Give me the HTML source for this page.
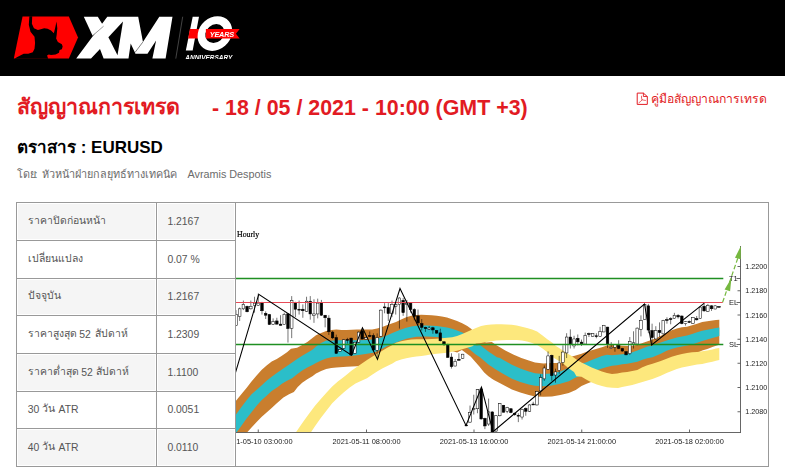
<!DOCTYPE html>
<html lang="th"><head><meta charset="utf-8"><title>สัญญาณการเทรด</title>
<style>
html,body{margin:0;padding:0;background:#fff;}
body{width:785px;height:474px;overflow:hidden;position:relative;font-family:"Liberation Sans",sans-serif;color:#000;}
#hdr{position:absolute;left:0;top:0;width:785px;height:76px;background:#000;}
.t{position:absolute;white-space:nowrap;line-height:1;margin:0;padding:0;}
.th{font-family:"Liberation Sans",sans-serif;}
svg{position:absolute;left:0;top:0;}
#chart{left:236px;top:203px;will-change:transform;}
#logo{will-change:transform;}
.ax{font-family:"Liberation Sans",sans-serif;font-size:7.2px;fill:#222;}
.lb{font-family:"Liberation Sans",sans-serif;font-size:7.5px;fill:#222;}
</style></head><body>
<div id="hdr"></div>
<svg id="grid" width="785" height="474" viewBox="0 0 785 474">
<rect x="18" y="204" width="137" height="35" fill="#f5f5f5"/><rect x="158" y="204" width="76" height="35" fill="#f5f5f5"/>
<rect x="18" y="280" width="137" height="34" fill="#f5f5f5"/><rect x="158" y="280" width="76" height="34" fill="#f5f5f5"/>
<rect x="18" y="355" width="137" height="35" fill="#f5f5f5"/><rect x="158" y="355" width="76" height="35" fill="#f5f5f5"/>
<rect x="18" y="430" width="137" height="35" fill="#f5f5f5"/><rect x="158" y="430" width="76" height="35" fill="#f5f5f5"/>
<rect x="16" y="202" width="753" height="1" fill="#999"/>
<rect x="16" y="240" width="220" height="1" fill="#999"/>
<rect x="16" y="278" width="220" height="1" fill="#999"/>
<rect x="16" y="315" width="220" height="1" fill="#999"/>
<rect x="16" y="353" width="220" height="1" fill="#999"/>
<rect x="16" y="391" width="220" height="1" fill="#999"/>
<rect x="16" y="428" width="220" height="1" fill="#999"/>
<rect x="16" y="466" width="753" height="1" fill="#999"/>
<rect x="16" y="202" width="1" height="265" fill="#999"/>
<rect x="156" y="202" width="1" height="265" fill="#999"/>
<rect x="235" y="202" width="1" height="265" fill="#999"/>
<rect x="768" y="202" width="1" height="265" fill="#999"/>
</svg>
<svg id="thai" width="785" height="474" viewBox="0 0 785 474">
<g fill="none" stroke="#e21b23" stroke-linejoin="round" stroke-linecap="round"><path stroke-width="1" d="M637.6,93.1 H643.4 L647.3,96.6 V104.4 H637.6 Z"/><path stroke-width="0.9" d="M643.4,93.3 V96.5 H647.1"/><path stroke-width="0.7" d="M641.5,96.2 Q641.3,98.5 642.1,99.8 Q640.5,102 639,102.7 M642.1,99.8 Q643.8,100.3 645.5,100.4"/></g>
</svg>
<span class="t th" style="left:17.2px;top:97px;font-size:21.4px;color:#e21b23;font-weight:bold">สัญญาณการเทรด</span>
<span class="t" style="left:212px;top:98px;font-size:21.4px;color:#e21b23;font-weight:bold">- 18 / 05 / 2021 - 10:00 (GMT +3)</span>
<span class="t th" style="left:650.9px;top:93px;font-size:12.2px;color:#e21b23;font-weight:normal">คู่มือสัญญาณการเทรด</span>
<span class="t th" style="left:17.2px;top:139px;font-size:17px;color:#000;font-weight:bold">ตราสาร</span>
<span class="t" style="left:80.7px;top:139px;font-size:17px;color:#000;font-weight:bold">: EURUSD</span>
<span class="t th" style="left:16.6px;top:169px;font-size:10.8px;color:#6b6b6b;font-weight:normal">โดย</span>
<span class="t" style="left:34.6px;top:169px;font-size:10.8px;color:#6b6b6b;font-weight:normal">:</span>
<span class="t th" style="left:41.5px;top:169px;font-size:10.8px;color:#6b6b6b;font-weight:normal">หัวหน้าฝ่ายกลยุทธ์ทางเทคนิค</span>
<span class="t" style="left:187.5px;top:169px;font-size:10.8px;color:#6b6b6b;font-weight:normal">Avramis Despotis</span>
<span class="t th" style="left:28px;top:216px;font-size:10.4px;color:#555;font-weight:normal">ราคาปิดก่อนหน้า</span>
<span class="t th" style="left:28px;top:254px;font-size:10.4px;color:#555;font-weight:normal">เปลี่ยนแปลง</span>
<span class="t th" style="left:28px;top:291px;font-size:10.4px;color:#555;font-weight:normal">ปัจจุบัน</span>
<span class="t th" style="left:28px;top:329px;font-size:10.4px;color:#555;font-weight:normal">ราคาสูงสุด</span>
<span class="t" style="left:79.3px;top:330px;font-size:10.4px;color:#555;font-weight:normal">52</span>
<span class="t th" style="left:95px;top:329px;font-size:10.4px;color:#555;font-weight:normal">สัปดาห์</span>
<span class="t th" style="left:28px;top:367px;font-size:10.4px;color:#555;font-weight:normal">ราคาต่ำสุด</span>
<span class="t" style="left:81.3px;top:368px;font-size:10.4px;color:#555;font-weight:normal">52</span>
<span class="t th" style="left:96.4px;top:367px;font-size:10.4px;color:#555;font-weight:normal">สัปดาห์</span>
<span class="t" style="left:27.7px;top:405px;font-size:10.4px;color:#555;font-weight:normal">30</span>
<span class="t th" style="left:42px;top:404px;font-size:10.4px;color:#555;font-weight:normal">วัน</span>
<span class="t" style="left:58.6px;top:405px;font-size:10.4px;color:#555;font-weight:normal">ATR</span>
<span class="t" style="left:27.7px;top:443px;font-size:10.4px;color:#555;font-weight:normal">40</span>
<span class="t th" style="left:42px;top:442px;font-size:10.4px;color:#555;font-weight:normal">วัน</span>
<span class="t" style="left:58.6px;top:443px;font-size:10.4px;color:#555;font-weight:normal">ATR</span>
<span class="t" style="left:167.4px;top:217px;font-size:10.4px;color:#555;font-weight:normal">1.2167</span>
<span class="t" style="left:167.4px;top:255px;font-size:10.4px;color:#555;font-weight:normal">0.07 %</span>
<span class="t" style="left:167.4px;top:292px;font-size:10.4px;color:#555;font-weight:normal">1.2167</span>
<span class="t" style="left:167.4px;top:330px;font-size:10.4px;color:#555;font-weight:normal">1.2309</span>
<span class="t" style="left:167.4px;top:368px;font-size:10.4px;color:#555;font-weight:normal">1.1100</span>
<span class="t" style="left:167.4px;top:405px;font-size:10.4px;color:#555;font-weight:normal">0.0051</span>
<span class="t" style="left:167.4px;top:443px;font-size:10.4px;color:#555;font-weight:normal">0.0110</span>
<svg id="logo" width="260" height="58.6" viewBox="0 0 260 58.6">
<polygon fill="#f00" points="22.54,16.42 68.85,16.42 78.03,37.52 68.85,58.61 13.82,58.61"/>
<polygon fill="#000" points="29.37,16.27 32.22,16.27 31.88,23.68 33.93,28.23 37.92,29.94 40.77,29.37 44.19,28.23 47.61,28.80 51.03,30.51 53.87,33.36 55.36,27.09 56.50,21.40 57.29,28.23 56.72,34.50 56.15,38.49 57.86,41.91 61.85,44.19 62.65,46.47 61.85,49.32 59.57,49.89 59.00,52.74 55.58,54.44 51.03,55.01 48.75,54.44 47.04,55.58 48.18,58.77 14.56,58.77 16.84,57.29 23.68,53.87 28.23,53.87 32.79,52.17 34.50,48.75 35.07,43.05 34.50,36.78 30.51,31.65 28.80,24.81"/>
<polygon fill="#fff" points="76.2,58.6 107.3,16.75 138.2,16.75 142.95,42.06 159.3,16.75 172.5,16.75 165.6,58.6 152.4,58.6 156.1,40.5 147.5,53.7 135.4,53.7 134.9,52.6 130.7,43.6 128.5,58.6 103.6,58.6 100,48.9 91,58.6"/>
<polygon fill="#fff" points="83.8,16.75 97.8,16.75 103.6,26.2 92.6,35.7"/>
<polygon fill="#000" points="108.4,37.3 123.0,21.5 117.5,55.2"/>
<line x1="92.6" y1="35.7" x2="103.6" y2="26.2" stroke="#000" stroke-width="0.4"/>
<line x1="134.9" y1="52.6" x2="142.8" y2="42.1" stroke="#000" stroke-width="0.5"/>
<line x1="182.7" y1="16.75" x2="175.8" y2="58.6" stroke="#555" stroke-width="0.8"/>
<polygon fill="#fff" points="192.69,16.75 199.02,16.75 192.69,50.52 185.83,50.52"/>
<polygon fill="#f00" points="189.84,28.89 201.66,28.89 201.66,38.39 188.15,38.39"/>
<g transform="translate(214.9,33.6) skewX(-9)"><path fill="#fff" fill-rule="evenodd" d="M-17.1,0 A17.1,17.3 0 1,0 17.1,0 A17.1,17.3 0 1,0 -17.1,0 Z M-9.5,0 A9.5,9.5 0 1,1 9.5,0 A9.5,9.5 0 1,1 -9.5,0 Z"/></g>
<polygon fill="#f00" points="205.88,28.89 239.66,28.89 235.96,33.64 239.66,38.39 205.88,38.39"/>
<text x="209.8" y="36.9" style="font-family:'Liberation Sans',sans-serif;font-weight:bold;font-style:italic;font-size:7.3px;fill:#fff;letter-spacing:-0.2px">YEARS</text>
<text x="185.3" y="59.75" style="font-family:'Liberation Sans',sans-serif;font-weight:bold;font-style:italic;font-size:6.5px;fill:#fff">ANNIVERSARY</text>
</svg>
<svg id="chart" width="532" height="263" viewBox="236 203 532 263">
<defs><clipPath id="cp"><rect x="236" y="203" width="504.5" height="229.5"/></clipPath>
<clipPath id="cl"><rect x="236" y="433" width="532" height="30"/></clipPath></defs>
<g clip-path="url(#cp)">
<path fill="#c97e2e" d="M228.0,410.8 L236.0,400.8 L241.1,394.6 L246.7,387.7 L251.3,381.8 L256.4,375.7 L261.5,370.1 L266.6,365.5 L271.7,361.4 L276.8,358.9 L281.9,355.8 L287.0,352.2 L291.0,348.7 L297.1,347.7 L302.2,345.1 L307.3,342.1 L316.0,335.2 L321.1,333.1 L326.2,331.1 L331.3,330.1 L336.4,329.6 L341.5,329.9 L346.6,330.1 L351.7,329.8 L356.8,329.4 L361.9,329.6 L367.0,329.6 L372.1,329.4 L377.1,328.5 L382.2,327.0 L387.3,325.0 L392.4,323.2 L396.0,321.9 L401.1,319.4 L406.2,317.3 L411.3,315.8 L416.4,315.1 L421.5,314.8 L426.6,315.1 L431.7,315.3 L436.8,315.8 L441.9,316.5 L447.0,317.5 L452.1,319.2 L457.1,320.9 L462.2,323.2 L467.3,326.0 L471.4,329.0 L479.1,340.0 L486.2,342.6 L491.8,342.1 L496.9,345.5 L505.3,350.5 L513.8,354.8 L521.4,357.9 L528.8,360.5 L535.0,362.6 L543.4,363.5 L551.9,362.9 L560.3,363.1 L566.2,357.9 L574.8,355.8 L581.5,353.8 L586.6,351.7 L591.7,350.2 L596.8,348.7 L601.9,347.2 L607.0,345.6 L612.1,345.1 L617.1,345.3 L622.2,345.7 L627.3,345.9 L632.4,345.7 L636.0,345.1 L641.1,343.5 L646.2,341.7 L651.3,340.0 L656.4,337.9 L661.5,335.4 L666.6,332.8 L671.7,330.3 L676.8,328.5 L681.9,327.2 L687.0,326.7 L692.1,325.2 L697.1,323.7 L702.2,322.1 L707.3,321.3 L712.4,320.6 L716.0,320.1 L719.3,319.8 L719.3,344.7 L716.0,345.8 L712.4,347.0 L707.3,348.9 L702.2,350.6 L697.1,352.9 L692.1,353.3 L687.0,353.9 L681.9,355.0 L676.8,356.2 L671.7,357.7 L666.6,359.8 L660.8,362.1 L652.5,364.8 L647.4,366.3 L642.4,368.4 L637.3,370.9 L632.3,371.9 L627.2,372.9 L622.1,373.4 L617.1,374.4 L612.0,374.9 L607.0,378.2 L598.8,380.3 L591.7,381.8 L586.6,383.8 L581.5,386.1 L575.7,389.9 L568.8,393.0 L560.3,395.1 L551.9,396.4 L543.4,396.8 L535.0,396.4 L528.8,395.1 L520.3,392.6 L511.9,389.6 L503.4,385.0 L493.9,380.0 L488.4,376.3 L484.2,372.5 L479.4,366.5 L470.6,356.6 L461.9,350.0 L457.1,352.5 L447.0,349.4 L436.8,347.7 L426.6,346.9 L416.4,347.1 L406.2,348.9 L396.0,352.5 L392.4,353.8 L387.3,355.8 L382.2,358.4 L377.1,360.9 L373.1,362.9 L367.0,364.5 L361.9,365.7 L356.8,366.3 L351.7,366.5 L346.6,366.7 L336.4,367.5 L331.3,368.0 L326.2,369.1 L321.1,371.1 L316.0,373.6 L312.4,376.2 L307.3,379.3 L302.2,382.8 L297.7,386.9 L293.9,391.9 L289.0,394.3 L283.4,397.4 L276.8,403.3 L271.7,407.9 L266.6,412.5 L261.5,417.1 L256.4,422.2 L251.3,427.8 L247.7,431.8 L228.0,455.0Z"/>
<path fill="#2bbec9" d="M228.0,424.7 L236.0,414.5 L241.1,407.4 L246.2,400.8 L251.3,394.6 L256.4,390.1 L259.9,386.9 L266.6,380.8 L271.7,376.7 L276.8,373.1 L281.9,369.6 L287.0,366.0 L292.1,362.4 L297.1,358.9 L302.2,355.8 L307.3,352.8 L312.4,349.7 L316.0,346.6 L321.1,343.1 L326.2,340.5 L331.3,340.8 L336.4,340.3 L341.5,340.3 L346.6,340.3 L356.8,340.3 L367.0,339.9 L372.1,339.5 L377.1,338.7 L382.2,337.2 L387.3,335.2 L392.4,333.1 L396.0,331.6 L401.1,329.6 L406.2,327.7 L411.3,326.5 L416.4,325.7 L421.5,325.5 L426.6,325.5 L431.7,325.7 L436.8,326.0 L441.9,326.7 L447.0,327.5 L452.1,328.7 L457.1,330.4 L462.2,332.4 L467.3,335.2 L472.4,337.9 L476.0,345.6 L480.0,345.1 L488.4,351.4 L496.9,357.3 L500.1,358.0 L503.4,360.1 L511.9,364.8 L520.3,368.5 L528.8,371.5 L535.0,373.2 L543.4,374.0 L551.9,373.6 L560.3,371.5 L564.5,369.8 L570.0,367.1 L585.8,362.5 L591.7,359.9 L596.8,357.9 L601.9,356.1 L607.0,354.8 L612.0,355.2 L622.1,354.2 L627.2,353.7 L632.3,352.2 L637.3,350.6 L642.4,348.6 L647.4,346.6 L652.5,345.6 L660.8,342.6 L666.6,340.5 L671.7,338.9 L676.8,337.6 L681.9,336.4 L687.0,335.4 L692.1,333.9 L697.1,332.3 L702.2,330.8 L707.3,329.8 L712.4,328.8 L716.0,328.0 L719.3,327.6 L719.3,336.1 L716.0,336.9 L712.4,337.9 L707.3,339.5 L702.2,341.0 L697.1,342.7 L692.1,344.4 L687.0,345.6 L681.9,346.6 L676.8,347.6 L671.7,349.1 L666.6,350.7 L660.8,353.7 L652.5,357.2 L647.4,358.2 L642.4,359.7 L637.3,361.8 L632.3,362.8 L627.2,363.8 L622.1,364.3 L617.1,365.3 L612.0,365.8 L607.0,367.0 L600.3,369.1 L591.7,372.1 L581.0,375.7 L575.7,377.6 L568.8,381.2 L560.3,383.7 L551.9,385.4 L543.4,386.3 L535.0,385.8 L528.8,384.6 L520.3,382.1 L511.9,378.7 L503.4,374.0 L495.0,369.0 L488.4,364.5 L480.0,357.3 L475.7,354.6 L468.0,347.9 L457.1,341.4 L447.0,338.5 L436.8,337.0 L426.6,336.5 L416.4,336.7 L406.2,338.7 L396.0,342.6 L392.4,344.1 L387.3,346.1 L382.2,348.7 L377.1,351.2 L373.1,352.8 L367.0,353.8 L356.8,355.3 L346.6,356.3 L336.4,356.8 L331.3,357.3 L326.2,358.4 L321.1,360.4 L316.0,362.9 L312.4,365.0 L307.3,367.5 L302.2,370.6 L297.1,374.2 L292.1,378.2 L287.0,380.8 L281.9,383.8 L277.8,386.9 L271.7,391.1 L266.6,395.7 L261.5,400.2 L256.4,405.9 L251.3,412.5 L246.2,419.1 L241.1,426.2 L237.0,431.8 L228.0,447.0Z"/>
<path fill="#fde87d" d="M287.0,445.4 L296.3,431.7 L303.2,421.8 L309.0,413.7 L314.8,406.1 L320.6,399.2 L326.4,392.8 L332.2,386.4 L338.1,381.2 L341.5,378.7 L346.6,374.7 L351.7,370.6 L356.8,367.0 L361.9,363.5 L367.0,359.9 L372.1,356.8 L377.1,353.8 L382.2,350.7 L387.3,347.7 L392.4,345.1 L396.0,342.8 L401.1,341.3 L406.2,340.3 L411.3,339.5 L416.4,339.2 L421.5,339.2 L426.6,339.2 L431.7,338.9 L436.8,338.7 L441.9,338.2 L447.0,337.7 L452.1,337.2 L457.1,335.9 L462.2,334.1 L467.3,331.8 L472.4,329.6 L476.0,328.0 L481.1,326.0 L486.2,325.0 L491.3,324.5 L496.4,324.3 L501.5,324.3 L506.6,324.5 L511.7,324.8 L516.8,325.5 L521.9,326.7 L527.0,328.0 L532.1,329.6 L537.1,331.6 L542.2,335.2 L547.3,339.2 L552.4,342.8 L556.0,346.1 L561.1,349.2 L566.2,352.8 L571.3,355.8 L576.4,359.4 L581.5,362.4 L586.6,365.0 L591.7,367.5 L596.8,369.6 L601.9,371.6 L607.0,373.1 L612.0,373.9 L617.1,373.4 L622.1,372.4 L627.2,371.9 L632.3,370.9 L637.3,369.9 L642.4,367.3 L647.4,365.3 L652.5,363.8 L660.8,361.1 L666.6,358.8 L671.7,356.7 L676.8,355.2 L681.9,354.0 L687.0,352.9 L692.1,352.3 L697.1,351.9 L702.2,351.3 L707.3,350.6 L712.4,349.6 L716.0,348.6 L719.3,347.9 L719.3,360.0 L716.0,360.8 L712.4,361.8 L707.3,362.8 L702.2,363.9 L697.1,364.6 L692.1,365.4 L687.0,366.4 L681.9,367.4 L676.8,368.9 L671.7,371.0 L666.6,373.0 L660.8,375.8 L652.5,379.0 L647.4,380.5 L642.4,382.0 L637.3,383.5 L632.3,385.1 L627.2,386.1 L622.1,387.1 L618.1,388.0 L612.1,387.8 L607.0,387.3 L601.9,385.9 L596.8,384.4 L591.7,382.4 L586.6,379.8 L581.5,376.8 L576.4,376.2 L574.0,372.1 L568.8,368.5 L564.5,364.8 L560.3,361.8 L554.0,358.0 L547.3,352.2 L542.2,348.2 L537.1,345.1 L532.1,343.1 L527.0,341.5 L521.9,340.5 L516.8,340.0 L506.6,340.0 L496.4,340.5 L491.3,341.2 L486.2,342.1 L481.1,342.9 L476.0,343.6 L472.4,346.3 L467.3,347.7 L462.2,349.2 L457.1,350.7 L452.1,351.7 L447.0,352.8 L441.9,353.3 L436.8,353.8 L431.7,354.3 L426.6,355.3 L421.5,356.1 L416.4,356.6 L411.3,357.3 L406.2,358.2 L401.1,359.4 L396.0,361.2 L392.4,363.5 L387.3,366.0 L382.2,368.6 L377.1,371.6 L372.1,374.7 L367.0,378.2 L360.9,381.0 L355.5,383.5 L349.7,387.5 L343.9,392.2 L338.1,397.4 L332.2,403.2 L326.4,410.8 L320.6,418.3 L314.8,426.4 L311.3,431.7 L302.0,445.0Z"/>
</g>
<g clip-path="url(#cp)">
<line x1="235.96" x2="235.96" y1="310.11" y2="326.04" stroke="#000" stroke-width="0.55"/>
<rect x="234.66" y="314.57" width="2.6" height="10.83" fill="#fff" stroke="#000" stroke-width="0.5"/>
<line x1="239.67" x2="239.67" y1="307.57" y2="320.94" stroke="#000" stroke-width="0.55"/>
<rect x="238.37" y="308.84" width="2.6" height="7.64" fill="#fff" stroke="#000" stroke-width="0.5"/>
<line x1="243.39" x2="243.39" y1="300.56" y2="310.11" stroke="#000" stroke-width="0.55"/>
<rect x="242.09" y="304.38" width="2.6" height="4.46" fill="#fff" stroke="#000" stroke-width="0.5"/>
<line x1="247.10" x2="247.10" y1="305.66" y2="312.28" stroke="#000" stroke-width="0.55"/>
<rect x="245.80" y="306.29" width="2.6" height="5.48" fill="#000" stroke="#000" stroke-width="0.5"/>
<line x1="250.82" x2="250.82" y1="300.56" y2="309.48" stroke="#000" stroke-width="0.55"/>
<rect x="249.52" y="306.29" width="2.6" height="2.55" fill="#fff" stroke="#000" stroke-width="0.5"/>
<line x1="254.53" x2="254.53" y1="296.74" y2="312.66" stroke="#000" stroke-width="0.55"/>
<rect x="253.23" y="303.11" width="2.6" height="2.55" fill="#fff" stroke="#000" stroke-width="0.5"/>
<line x1="258.25" x2="258.25" y1="293.55" y2="305.66" stroke="#000" stroke-width="0.55"/>
<rect x="256.95" y="303.11" width="2.6" height="2.29" fill="#fff" stroke="#000" stroke-width="0.5"/>
<line x1="261.97" x2="261.97" y1="301.83" y2="314.57" stroke="#000" stroke-width="0.55"/>
<rect x="260.67" y="302.85" width="2.6" height="7.90" fill="#000" stroke="#000" stroke-width="0.5"/>
<line x1="265.68" x2="265.68" y1="311.39" y2="319.03" stroke="#000" stroke-width="0.55"/>
<rect x="264.38" y="313.30" width="2.6" height="1.91" fill="#000" stroke="#000" stroke-width="0.5"/>
<line x1="269.40" x2="269.40" y1="313.94" y2="324.76" stroke="#000" stroke-width="0.55"/>
<rect x="268.10" y="314.57" width="2.6" height="9.94" fill="#000" stroke="#000" stroke-width="0.5"/>
<line x1="273.11" x2="273.11" y1="318.39" y2="325.02" stroke="#000" stroke-width="0.55"/>
<rect x="271.81" y="321.58" width="2.6" height="2.93" fill="#fff" stroke="#000" stroke-width="0.5"/>
<line x1="276.83" x2="276.83" y1="317.76" y2="324.51" stroke="#000" stroke-width="0.55"/>
<rect x="275.53" y="320.94" width="2.6" height="3.18" fill="#000" stroke="#000" stroke-width="0.5"/>
<line x1="280.54" x2="280.54" y1="315.21" y2="325.40" stroke="#000" stroke-width="0.55"/>
<rect x="279.24" y="324.13" width="2.6" height="1.27" fill="#000" stroke="#000" stroke-width="0.5"/>
<line x1="284.26" x2="284.26" y1="312.66" y2="324.76" stroke="#000" stroke-width="0.55"/>
<rect x="282.96" y="314.32" width="2.6" height="10.19" fill="#fff" stroke="#000" stroke-width="0.5"/>
<line x1="287.97" x2="287.97" y1="313.04" y2="342.60" stroke="#000" stroke-width="0.55"/>
<rect x="286.67" y="313.94" width="2.6" height="14.65" fill="#000" stroke="#000" stroke-width="0.5"/>
<line x1="291.69" x2="291.69" y1="296.10" y2="338.14" stroke="#000" stroke-width="0.55"/>
<rect x="290.39" y="300.56" width="2.6" height="27.77" fill="#fff" stroke="#000" stroke-width="0.5"/>
<line x1="295.40" x2="295.40" y1="301.83" y2="317.12" stroke="#000" stroke-width="0.55"/>
<rect x="294.10" y="302.47" width="2.6" height="6.75" fill="#000" stroke="#000" stroke-width="0.5"/>
<line x1="299.12" x2="299.12" y1="300.56" y2="314.57" stroke="#000" stroke-width="0.55"/>
<rect x="297.82" y="309.22" width="2.6" height="0.90" fill="#000" stroke="#000" stroke-width="0.5"/>
<line x1="302.84" x2="302.84" y1="304.38" y2="317.76" stroke="#000" stroke-width="0.55"/>
<rect x="301.54" y="309.22" width="2.6" height="1.53" fill="#000" stroke="#000" stroke-width="0.5"/>
<line x1="306.55" x2="306.55" y1="296.74" y2="312.03" stroke="#000" stroke-width="0.55"/>
<rect x="305.25" y="301.20" width="2.6" height="10.19" fill="#fff" stroke="#000" stroke-width="0.5"/>
<line x1="310.27" x2="310.27" y1="296.10" y2="319.67" stroke="#000" stroke-width="0.55"/>
<rect x="308.97" y="301.20" width="2.6" height="12.74" fill="#000" stroke="#000" stroke-width="0.5"/>
<line x1="313.98" x2="313.98" y1="299.29" y2="322.85" stroke="#000" stroke-width="0.55"/>
<rect x="312.68" y="313.94" width="2.6" height="1.66" fill="#fff" stroke="#000" stroke-width="0.5"/>
<line x1="317.70" x2="317.70" y1="298.65" y2="318.39" stroke="#000" stroke-width="0.55"/>
<rect x="316.40" y="303.11" width="2.6" height="10.83" fill="#fff" stroke="#000" stroke-width="0.5"/>
<line x1="321.41" x2="321.41" y1="299.92" y2="315.85" stroke="#000" stroke-width="0.55"/>
<rect x="320.11" y="302.85" width="2.6" height="12.36" fill="#000" stroke="#000" stroke-width="0.5"/>
<line x1="325.13" x2="325.13" y1="315.21" y2="327.31" stroke="#000" stroke-width="0.55"/>
<rect x="323.83" y="315.21" width="2.6" height="2.55" fill="#000" stroke="#000" stroke-width="0.5"/>
<line x1="328.84" x2="328.84" y1="315.21" y2="334.96" stroke="#000" stroke-width="0.55"/>
<rect x="327.54" y="318.14" width="2.6" height="13.63" fill="#000" stroke="#000" stroke-width="0.5"/>
<line x1="332.56" x2="332.56" y1="330.83" y2="339.11" stroke="#000" stroke-width="0.55"/>
<rect x="331.26" y="332.10" width="2.6" height="5.73" fill="#000" stroke="#000" stroke-width="0.5"/>
<line x1="336.28" x2="336.28" y1="334.65" y2="353.76" stroke="#000" stroke-width="0.55"/>
<rect x="334.98" y="337.58" width="2.6" height="15.80" fill="#000" stroke="#000" stroke-width="0.5"/>
<line x1="339.99" x2="339.99" y1="348.66" y2="351.59" stroke="#000" stroke-width="0.55"/>
<rect x="338.69" y="349.55" width="2.6" height="1.66" fill="#fff" stroke="#000" stroke-width="0.5"/>
<line x1="343.71" x2="343.71" y1="339.11" y2="348.66" stroke="#000" stroke-width="0.55"/>
<rect x="342.41" y="339.75" width="2.6" height="8.54" fill="#fff" stroke="#000" stroke-width="0.5"/>
<line x1="347.42" x2="347.42" y1="337.83" y2="343.57" stroke="#000" stroke-width="0.55"/>
<rect x="346.12" y="339.49" width="2.6" height="0.90" fill="#000" stroke="#000" stroke-width="0.5"/>
<line x1="351.14" x2="351.14" y1="337.83" y2="355.67" stroke="#000" stroke-width="0.55"/>
<rect x="349.84" y="338.09" width="2.6" height="16.94" fill="#000" stroke="#000" stroke-width="0.5"/>
<line x1="354.85" x2="354.85" y1="341.66" y2="353.76" stroke="#000" stroke-width="0.55"/>
<rect x="353.55" y="342.29" width="2.6" height="11.08" fill="#fff" stroke="#000" stroke-width="0.5"/>
<line x1="358.57" x2="358.57" y1="331.46" y2="342.93" stroke="#000" stroke-width="0.55"/>
<rect x="357.27" y="332.10" width="2.6" height="10.19" fill="#fff" stroke="#000" stroke-width="0.5"/>
<line x1="362.28" x2="362.28" y1="327.64" y2="339.11" stroke="#000" stroke-width="0.55"/>
<rect x="360.98" y="330.83" width="2.6" height="8.28" fill="#000" stroke="#000" stroke-width="0.5"/>
<line x1="366.00" x2="366.00" y1="337.20" y2="339.36" stroke="#000" stroke-width="0.55"/>
<rect x="364.70" y="337.58" width="2.6" height="1.53" fill="#fff" stroke="#000" stroke-width="0.5"/>
<line x1="369.72" x2="369.72" y1="331.46" y2="337.20" stroke="#000" stroke-width="0.55"/>
<rect x="368.42" y="335.54" width="2.6" height="0.90" fill="#000" stroke="#000" stroke-width="0.5"/>
<line x1="373.43" x2="373.43" y1="333.38" y2="351.21" stroke="#000" stroke-width="0.55"/>
<rect x="372.13" y="335.54" width="2.6" height="14.39" fill="#000" stroke="#000" stroke-width="0.5"/>
<line x1="377.15" x2="377.15" y1="333.38" y2="358.22" stroke="#000" stroke-width="0.55"/>
<rect x="375.85" y="337.58" width="2.6" height="12.74" fill="#fff" stroke="#000" stroke-width="0.5"/>
<line x1="380.86" x2="380.86" y1="309.48" y2="336.48" stroke="#000" stroke-width="0.55"/>
<rect x="379.56" y="310.11" width="2.6" height="26.11" fill="#fff" stroke="#000" stroke-width="0.5"/>
<line x1="384.58" x2="384.58" y1="303.11" y2="313.30" stroke="#000" stroke-width="0.55"/>
<rect x="383.28" y="306.93" width="2.6" height="0.90" fill="#000" stroke="#000" stroke-width="0.5"/>
<line x1="388.29" x2="388.29" y1="303.11" y2="320.94" stroke="#000" stroke-width="0.55"/>
<rect x="386.99" y="307.57" width="2.6" height="5.99" fill="#000" stroke="#000" stroke-width="0.5"/>
<line x1="392.01" x2="392.01" y1="300.56" y2="317.12" stroke="#000" stroke-width="0.55"/>
<rect x="390.71" y="304.38" width="2.6" height="8.92" fill="#fff" stroke="#000" stroke-width="0.5"/>
<line x1="395.72" x2="395.72" y1="303.11" y2="314.57" stroke="#000" stroke-width="0.55"/>
<rect x="394.42" y="304.38" width="2.6" height="1.91" fill="#fff" stroke="#000" stroke-width="0.5"/>
<line x1="399.44" x2="399.44" y1="297.38" y2="328.59" stroke="#000" stroke-width="0.55"/>
<rect x="398.14" y="298.01" width="2.6" height="6.37" fill="#fff" stroke="#000" stroke-width="0.5"/>
<line x1="403.15" x2="403.15" y1="298.01" y2="315.85" stroke="#000" stroke-width="0.55"/>
<rect x="401.85" y="300.31" width="2.6" height="12.36" fill="#000" stroke="#000" stroke-width="0.5"/>
<line x1="406.87" x2="406.87" y1="299.92" y2="321.58" stroke="#000" stroke-width="0.55"/>
<rect x="405.57" y="303.11" width="2.6" height="1.27" fill="#fff" stroke="#000" stroke-width="0.5"/>
<line x1="410.59" x2="410.59" y1="302.47" y2="312.66" stroke="#000" stroke-width="0.55"/>
<rect x="409.29" y="303.11" width="2.6" height="6.37" fill="#000" stroke="#000" stroke-width="0.5"/>
<line x1="414.30" x2="414.30" y1="308.20" y2="320.31" stroke="#000" stroke-width="0.55"/>
<rect x="413.00" y="309.48" width="2.6" height="7.01" fill="#000" stroke="#000" stroke-width="0.5"/>
<line x1="418.02" x2="418.02" y1="309.55" y2="324.84" stroke="#000" stroke-width="0.55"/>
<rect x="416.72" y="315.92" width="2.6" height="7.01" fill="#000" stroke="#000" stroke-width="0.5"/>
<line x1="421.73" x2="421.73" y1="319.11" y2="330.57" stroke="#000" stroke-width="0.55"/>
<rect x="420.43" y="323.57" width="2.6" height="3.82" fill="#000" stroke="#000" stroke-width="0.5"/>
<line x1="425.45" x2="425.45" y1="326.75" y2="331.85" stroke="#000" stroke-width="0.55"/>
<rect x="424.15" y="327.39" width="2.6" height="1.27" fill="#000" stroke="#000" stroke-width="0.5"/>
<line x1="429.16" x2="429.16" y1="326.11" y2="329.94" stroke="#000" stroke-width="0.55"/>
<rect x="427.86" y="328.03" width="2.6" height="1.27" fill="#fff" stroke="#000" stroke-width="0.5"/>
<line x1="432.88" x2="432.88" y1="326.75" y2="333.76" stroke="#000" stroke-width="0.55"/>
<rect x="431.58" y="327.77" width="2.6" height="2.17" fill="#000" stroke="#000" stroke-width="0.5"/>
<line x1="436.59" x2="436.59" y1="329.94" y2="333.76" stroke="#000" stroke-width="0.55"/>
<rect x="435.29" y="330.57" width="2.6" height="2.55" fill="#000" stroke="#000" stroke-width="0.5"/>
<line x1="440.31" x2="440.31" y1="328.66" y2="341.40" stroke="#000" stroke-width="0.55"/>
<rect x="439.01" y="332.87" width="2.6" height="7.90" fill="#000" stroke="#000" stroke-width="0.5"/>
<line x1="444.02" x2="444.02" y1="341.40" y2="345.86" stroke="#000" stroke-width="0.55"/>
<rect x="442.72" y="341.78" width="2.6" height="2.17" fill="#000" stroke="#000" stroke-width="0.5"/>
<line x1="447.74" x2="447.74" y1="343.73" y2="357.74" stroke="#000" stroke-width="0.55"/>
<rect x="446.44" y="344.36" width="2.6" height="13.12" fill="#000" stroke="#000" stroke-width="0.5"/>
<line x1="451.46" x2="451.46" y1="353.28" y2="368.57" stroke="#000" stroke-width="0.55"/>
<rect x="450.16" y="357.10" width="2.6" height="9.55" fill="#000" stroke="#000" stroke-width="0.5"/>
<line x1="455.17" x2="455.17" y1="359.01" y2="366.40" stroke="#000" stroke-width="0.55"/>
<rect x="453.87" y="361.31" width="2.6" height="4.71" fill="#fff" stroke="#000" stroke-width="0.5"/>
<line x1="458.89" x2="458.89" y1="353.28" y2="360.29" stroke="#000" stroke-width="0.55"/>
<rect x="457.59" y="359.27" width="2.6" height="1.02" fill="#000" stroke="#000" stroke-width="0.5"/>
<line x1="462.60" x2="462.60" y1="353.92" y2="358.76" stroke="#000" stroke-width="0.55"/>
<rect x="461.30" y="354.17" width="2.6" height="4.20" fill="#fff" stroke="#000" stroke-width="0.5"/>
<line x1="466.32" x2="466.32" y1="424.04" y2="425.96" stroke="#000" stroke-width="0.55"/>
<rect x="465.02" y="424.94" width="2.6" height="0.90" fill="#000" stroke="#000" stroke-width="0.5"/>
<line x1="470.03" x2="470.03" y1="405.57" y2="422.77" stroke="#000" stroke-width="0.55"/>
<rect x="468.73" y="412.58" width="2.6" height="9.55" fill="#fff" stroke="#000" stroke-width="0.5"/>
<line x1="473.75" x2="473.75" y1="394.75" y2="414.49" stroke="#000" stroke-width="0.55"/>
<rect x="472.45" y="408.38" width="2.6" height="1.02" fill="#fff" stroke="#000" stroke-width="0.5"/>
<line x1="477.46" x2="477.46" y1="389.01" y2="413.22" stroke="#000" stroke-width="0.55"/>
<rect x="476.16" y="389.65" width="2.6" height="19.11" fill="#fff" stroke="#000" stroke-width="0.5"/>
<line x1="481.18" x2="481.18" y1="387.10" y2="419.59" stroke="#000" stroke-width="0.55"/>
<rect x="479.88" y="389.01" width="2.6" height="29.94" fill="#000" stroke="#000" stroke-width="0.5"/>
<line x1="484.90" x2="484.90" y1="417.68" y2="429.14" stroke="#000" stroke-width="0.55"/>
<rect x="483.60" y="418.31" width="2.6" height="7.64" fill="#000" stroke="#000" stroke-width="0.5"/>
<line x1="488.61" x2="488.61" y1="398.57" y2="425.96" stroke="#000" stroke-width="0.55"/>
<rect x="487.31" y="411.94" width="2.6" height="12.10" fill="#fff" stroke="#000" stroke-width="0.5"/>
<line x1="492.33" x2="492.33" y1="411.31" y2="432.96" stroke="#000" stroke-width="0.55"/>
<rect x="491.03" y="411.94" width="2.6" height="20.38" fill="#000" stroke="#000" stroke-width="0.5"/>
<line x1="496.04" x2="496.04" y1="415.13" y2="432.32" stroke="#000" stroke-width="0.55"/>
<rect x="494.74" y="415.76" width="2.6" height="15.29" fill="#fff" stroke="#000" stroke-width="0.5"/>
<line x1="499.76" x2="499.76" y1="403.03" y2="416.40" stroke="#000" stroke-width="0.55"/>
<rect x="498.46" y="403.66" width="2.6" height="12.10" fill="#fff" stroke="#000" stroke-width="0.5"/>
<line x1="503.47" x2="503.47" y1="404.94" y2="412.58" stroke="#000" stroke-width="0.55"/>
<rect x="502.17" y="405.32" width="2.6" height="6.88" fill="#000" stroke="#000" stroke-width="0.5"/>
<line x1="507.19" x2="507.19" y1="406.85" y2="413.22" stroke="#000" stroke-width="0.55"/>
<rect x="505.89" y="407.48" width="2.6" height="3.82" fill="#fff" stroke="#000" stroke-width="0.5"/>
<line x1="510.90" x2="510.90" y1="408.12" y2="413.22" stroke="#000" stroke-width="0.55"/>
<rect x="509.60" y="408.76" width="2.6" height="3.82" fill="#000" stroke="#000" stroke-width="0.5"/>
<line x1="514.62" x2="514.62" y1="412.58" y2="415.76" stroke="#000" stroke-width="0.55"/>
<rect x="513.32" y="413.22" width="2.6" height="1.53" fill="#000" stroke="#000" stroke-width="0.5"/>
<line x1="518.34" x2="518.34" y1="413.22" y2="422.13" stroke="#000" stroke-width="0.55"/>
<rect x="517.04" y="415.25" width="2.6" height="0.90" fill="#000" stroke="#000" stroke-width="0.5"/>
<line x1="522.05" x2="522.05" y1="408.76" y2="419.59" stroke="#000" stroke-width="0.55"/>
<rect x="520.75" y="409.39" width="2.6" height="7.64" fill="#fff" stroke="#000" stroke-width="0.5"/>
<line x1="525.77" x2="525.77" y1="407.48" y2="415.76" stroke="#000" stroke-width="0.55"/>
<rect x="524.47" y="408.38" width="2.6" height="2.93" fill="#000" stroke="#000" stroke-width="0.5"/>
<line x1="529.48" x2="529.48" y1="404.30" y2="411.94" stroke="#000" stroke-width="0.55"/>
<rect x="528.18" y="404.94" width="2.6" height="6.37" fill="#fff" stroke="#000" stroke-width="0.5"/>
<line x1="533.20" x2="533.20" y1="401.75" y2="404.94" stroke="#000" stroke-width="0.55"/>
<rect x="531.90" y="404.04" width="2.6" height="0.90" fill="#000" stroke="#000" stroke-width="0.5"/>
<line x1="536.91" x2="536.91" y1="390.92" y2="405.57" stroke="#000" stroke-width="0.55"/>
<rect x="535.61" y="391.56" width="2.6" height="13.38" fill="#fff" stroke="#000" stroke-width="0.5"/>
<line x1="540.63" x2="540.63" y1="374.39" y2="395.41" stroke="#000" stroke-width="0.55"/>
<rect x="539.33" y="377.58" width="2.6" height="13.38" fill="#fff" stroke="#000" stroke-width="0.5"/>
<line x1="544.34" x2="544.34" y1="365.48" y2="380.76" stroke="#000" stroke-width="0.55"/>
<rect x="543.04" y="368.03" width="2.6" height="10.83" fill="#fff" stroke="#000" stroke-width="0.5"/>
<line x1="548.06" x2="548.06" y1="351.46" y2="369.94" stroke="#000" stroke-width="0.55"/>
<rect x="546.76" y="355.92" width="2.6" height="13.38" fill="#fff" stroke="#000" stroke-width="0.5"/>
<line x1="551.77" x2="551.77" y1="354.65" y2="380.76" stroke="#000" stroke-width="0.55"/>
<rect x="550.47" y="355.29" width="2.6" height="20.38" fill="#000" stroke="#000" stroke-width="0.5"/>
<line x1="555.49" x2="555.49" y1="368.66" y2="382.68" stroke="#000" stroke-width="0.55"/>
<rect x="554.19" y="371.85" width="2.6" height="3.18" fill="#fff" stroke="#000" stroke-width="0.5"/>
<line x1="559.21" x2="559.21" y1="355.92" y2="373.76" stroke="#000" stroke-width="0.55"/>
<rect x="557.91" y="362.93" width="2.6" height="7.64" fill="#fff" stroke="#000" stroke-width="0.5"/>
<line x1="562.92" x2="562.92" y1="345.32" y2="365.70" stroke="#000" stroke-width="0.55"/>
<rect x="561.62" y="352.07" width="2.6" height="10.45" fill="#fff" stroke="#000" stroke-width="0.5"/>
<line x1="566.64" x2="566.64" y1="333.22" y2="358.06" stroke="#000" stroke-width="0.55"/>
<rect x="565.34" y="337.04" width="2.6" height="15.92" fill="#fff" stroke="#000" stroke-width="0.5"/>
<line x1="570.35" x2="570.35" y1="329.39" y2="348.50" stroke="#000" stroke-width="0.55"/>
<rect x="569.05" y="337.04" width="2.6" height="7.01" fill="#000" stroke="#000" stroke-width="0.5"/>
<line x1="574.07" x2="574.07" y1="335.76" y2="348.50" stroke="#000" stroke-width="0.55"/>
<rect x="572.77" y="338.95" width="2.6" height="7.01" fill="#fff" stroke="#000" stroke-width="0.5"/>
<line x1="577.78" x2="577.78" y1="334.49" y2="345.32" stroke="#000" stroke-width="0.55"/>
<rect x="576.48" y="338.31" width="2.6" height="3.57" fill="#000" stroke="#000" stroke-width="0.5"/>
<line x1="581.50" x2="581.50" y1="339.59" y2="345.96" stroke="#000" stroke-width="0.55"/>
<rect x="580.20" y="342.13" width="2.6" height="1.66" fill="#000" stroke="#000" stroke-width="0.5"/>
<line x1="585.21" x2="585.21" y1="332.58" y2="344.43" stroke="#000" stroke-width="0.55"/>
<rect x="583.91" y="335.51" width="2.6" height="8.54" fill="#fff" stroke="#000" stroke-width="0.5"/>
<line x1="588.93" x2="588.93" y1="332.58" y2="337.04" stroke="#000" stroke-width="0.55"/>
<rect x="587.63" y="333.60" width="2.6" height="0.90" fill="#000" stroke="#000" stroke-width="0.5"/>
<line x1="592.64" x2="592.64" y1="333.22" y2="336.66" stroke="#000" stroke-width="0.55"/>
<rect x="591.35" y="333.47" width="2.6" height="2.93" fill="#fff" stroke="#000" stroke-width="0.5"/>
<line x1="596.36" x2="596.36" y1="333.22" y2="338.31" stroke="#000" stroke-width="0.55"/>
<rect x="595.06" y="335.76" width="2.6" height="0.90" fill="#000" stroke="#000" stroke-width="0.5"/>
<line x1="600.08" x2="600.08" y1="326.85" y2="336.78" stroke="#000" stroke-width="0.55"/>
<rect x="598.78" y="331.69" width="2.6" height="4.71" fill="#fff" stroke="#000" stroke-width="0.5"/>
<line x1="603.79" x2="603.79" y1="324.94" y2="332.20" stroke="#000" stroke-width="0.55"/>
<rect x="602.49" y="325.32" width="2.6" height="6.62" fill="#fff" stroke="#000" stroke-width="0.5"/>
<line x1="607.51" x2="607.51" y1="326.85" y2="347.87" stroke="#000" stroke-width="0.55"/>
<rect x="606.21" y="327.10" width="2.6" height="16.94" fill="#000" stroke="#000" stroke-width="0.5"/>
<line x1="611.22" x2="611.22" y1="342.13" y2="348.50" stroke="#000" stroke-width="0.55"/>
<rect x="609.92" y="347.23" width="2.6" height="1.27" fill="#fff" stroke="#000" stroke-width="0.5"/>
<line x1="614.94" x2="614.94" y1="344.04" y2="351.69" stroke="#000" stroke-width="0.55"/>
<rect x="613.64" y="344.68" width="2.6" height="2.55" fill="#fff" stroke="#000" stroke-width="0.5"/>
<line x1="618.65" x2="618.65" y1="340.22" y2="349.14" stroke="#000" stroke-width="0.55"/>
<rect x="617.35" y="345.32" width="2.6" height="3.18" fill="#000" stroke="#000" stroke-width="0.5"/>
<line x1="622.37" x2="622.37" y1="347.87" y2="351.69" stroke="#000" stroke-width="0.55"/>
<rect x="621.07" y="348.50" width="2.6" height="2.55" fill="#000" stroke="#000" stroke-width="0.5"/>
<line x1="626.08" x2="626.08" y1="351.05" y2="355.13" stroke="#000" stroke-width="0.55"/>
<rect x="624.78" y="351.69" width="2.6" height="3.18" fill="#000" stroke="#000" stroke-width="0.5"/>
<line x1="629.80" x2="629.80" y1="337.04" y2="354.87" stroke="#000" stroke-width="0.55"/>
<rect x="628.50" y="341.50" width="2.6" height="12.10" fill="#fff" stroke="#000" stroke-width="0.5"/>
<line x1="633.52" x2="633.52" y1="331.31" y2="348.50" stroke="#000" stroke-width="0.55"/>
<rect x="632.22" y="342.77" width="2.6" height="1.27" fill="#fff" stroke="#000" stroke-width="0.5"/>
<line x1="637.23" x2="637.23" y1="327.48" y2="345.32" stroke="#000" stroke-width="0.55"/>
<rect x="635.93" y="328.12" width="2.6" height="15.92" fill="#fff" stroke="#000" stroke-width="0.5"/>
<line x1="640.95" x2="640.95" y1="315.38" y2="336.40" stroke="#000" stroke-width="0.55"/>
<rect x="639.65" y="320.48" width="2.6" height="8.92" fill="#fff" stroke="#000" stroke-width="0.5"/>
<line x1="644.66" x2="644.66" y1="303.92" y2="319.84" stroke="#000" stroke-width="0.55"/>
<rect x="643.36" y="304.55" width="2.6" height="14.90" fill="#fff" stroke="#000" stroke-width="0.5"/>
<line x1="648.38" x2="648.38" y1="303.92" y2="333.22" stroke="#000" stroke-width="0.55"/>
<rect x="647.08" y="305.83" width="2.6" height="24.20" fill="#000" stroke="#000" stroke-width="0.5"/>
<line x1="652.09" x2="652.09" y1="323.66" y2="344.68" stroke="#000" stroke-width="0.55"/>
<rect x="650.79" y="330.41" width="2.6" height="7.26" fill="#000" stroke="#000" stroke-width="0.5"/>
<line x1="655.81" x2="655.81" y1="326.21" y2="339.59" stroke="#000" stroke-width="0.55"/>
<rect x="654.51" y="330.67" width="2.6" height="8.28" fill="#fff" stroke="#000" stroke-width="0.5"/>
<line x1="659.52" x2="659.52" y1="322.39" y2="337.04" stroke="#000" stroke-width="0.55"/>
<rect x="658.22" y="330.41" width="2.6" height="2.17" fill="#000" stroke="#000" stroke-width="0.5"/>
<line x1="663.24" x2="663.24" y1="319.84" y2="334.49" stroke="#000" stroke-width="0.55"/>
<rect x="661.94" y="320.48" width="2.6" height="13.38" fill="#fff" stroke="#000" stroke-width="0.5"/>
<line x1="666.95" x2="666.95" y1="317.29" y2="323.66" stroke="#000" stroke-width="0.55"/>
<rect x="665.65" y="319.59" width="2.6" height="0.90" fill="#000" stroke="#000" stroke-width="0.5"/>
<line x1="670.67" x2="670.67" y1="317.29" y2="324.30" stroke="#000" stroke-width="0.55"/>
<rect x="669.37" y="318.69" width="2.6" height="0.90" fill="#000" stroke="#000" stroke-width="0.5"/>
<line x1="674.39" x2="674.39" y1="312.83" y2="318.95" stroke="#000" stroke-width="0.55"/>
<rect x="673.09" y="315.38" width="2.6" height="3.18" fill="#fff" stroke="#000" stroke-width="0.5"/>
<line x1="678.10" x2="678.10" y1="314.11" y2="318.57" stroke="#000" stroke-width="0.55"/>
<rect x="676.80" y="315.38" width="2.6" height="1.53" fill="#000" stroke="#000" stroke-width="0.5"/>
<line x1="681.82" x2="681.82" y1="315.38" y2="324.30" stroke="#000" stroke-width="0.55"/>
<rect x="680.52" y="316.02" width="2.6" height="7.64" fill="#000" stroke="#000" stroke-width="0.5"/>
<line x1="685.53" x2="685.53" y1="321.11" y2="325.57" stroke="#000" stroke-width="0.55"/>
<rect x="684.23" y="321.75" width="2.6" height="1.91" fill="#fff" stroke="#000" stroke-width="0.5"/>
<line x1="689.25" x2="689.25" y1="320.48" y2="323.03" stroke="#000" stroke-width="0.55"/>
<rect x="687.95" y="321.50" width="2.6" height="0.90" fill="#000" stroke="#000" stroke-width="0.5"/>
<line x1="692.96" x2="692.96" y1="317.29" y2="323.66" stroke="#000" stroke-width="0.55"/>
<rect x="691.66" y="317.68" width="2.6" height="5.61" fill="#fff" stroke="#000" stroke-width="0.5"/>
<line x1="696.68" x2="696.68" y1="316.02" y2="320.48" stroke="#000" stroke-width="0.55"/>
<rect x="695.38" y="318.57" width="2.6" height="1.27" fill="#000" stroke="#000" stroke-width="0.5"/>
<line x1="700.39" x2="700.39" y1="306.46" y2="318.95" stroke="#000" stroke-width="0.55"/>
<rect x="699.09" y="307.10" width="2.6" height="11.46" fill="#fff" stroke="#000" stroke-width="0.5"/>
<line x1="704.11" x2="704.11" y1="303.28" y2="311.56" stroke="#000" stroke-width="0.55"/>
<rect x="702.81" y="306.21" width="2.6" height="4.71" fill="#000" stroke="#000" stroke-width="0.5"/>
<line x1="707.83" x2="707.83" y1="303.92" y2="311.82" stroke="#000" stroke-width="0.55"/>
<rect x="706.53" y="305.45" width="2.6" height="5.86" fill="#fff" stroke="#000" stroke-width="0.5"/>
<line x1="711.54" x2="711.54" y1="305.19" y2="310.92" stroke="#000" stroke-width="0.55"/>
<rect x="710.24" y="305.83" width="2.6" height="2.93" fill="#000" stroke="#000" stroke-width="0.5"/>
<line x1="715.26" x2="715.26" y1="305.45" y2="309.27" stroke="#000" stroke-width="0.55"/>
<rect x="713.96" y="305.83" width="2.6" height="3.18" fill="#fff" stroke="#000" stroke-width="0.5"/>
<line x1="718.97" x2="718.97" y1="306.46" y2="306.97" stroke="#000" stroke-width="0.55"/>
<rect x="717.67" y="306.46" width="2.6" height="0.90" fill="#000" stroke="#000" stroke-width="0.5"/>
</g>
<line x1="236" x2="723.3" y1="278.5" y2="278.5" stroke="#1f8f22" stroke-width="1.3"/>
<line x1="236" x2="722.8" y1="302.5" y2="302.5" stroke="#e74c58" stroke-width="1.2"/>
<line x1="236" x2="723.3" y1="344.5" y2="344.5" stroke="#1f8f22" stroke-width="1.3"/>
<g clip-path="url(#cp)">
<polyline fill="none" stroke="#000" stroke-width="1.05" stroke-linejoin="miter" points="235.5,372.5 258.75,294.25 351.5,355.3 362.5,327.8 377.5,359.4 400,288.5 466,425.5 481.5,387.25 493,431.75 644.5,304 651.6,345 704.3,303.2"/>
</g>
<line x1="236" x2="741" y1="432.5" y2="432.5" stroke="#555" stroke-width="0.9"/>
<line x1="740.5" x2="740.5" y1="246" y2="432.5" stroke="#555" stroke-width="0.9"/>
<line x1="737.5" x2="740.5" y1="266.5" y2="266.5" stroke="#555" stroke-width="0.9"/><text x="745.2" y="269.1" class="ax">1.2200</text><line x1="737.5" x2="740.5" y1="290.75" y2="290.75" stroke="#555" stroke-width="0.9"/><text x="745.2" y="293.35" class="ax">1.2180</text><line x1="737.5" x2="740.5" y1="315" y2="315" stroke="#555" stroke-width="0.9"/><text x="745.2" y="317.6" class="ax">1.2160</text><line x1="737.5" x2="740.5" y1="339.25" y2="339.25" stroke="#555" stroke-width="0.9"/><text x="745.2" y="341.85" class="ax">1.2140</text><line x1="737.5" x2="740.5" y1="363.25" y2="363.25" stroke="#555" stroke-width="0.9"/><text x="745.2" y="365.85" class="ax">1.2120</text><line x1="737.5" x2="740.5" y1="387.5" y2="387.5" stroke="#555" stroke-width="0.9"/><text x="745.2" y="390.1" class="ax">1.2100</text><line x1="737.5" x2="740.5" y1="411.75" y2="411.75" stroke="#555" stroke-width="0.9"/><text x="745.2" y="414.35" class="ax">1.2080</text>
<line x1="258.25" x2="258.25" y1="429.5" y2="432.5" stroke="#555" stroke-width="0.9"/><line x1="366.5" x2="366.5" y1="429.5" y2="432.5" stroke="#555" stroke-width="0.9"/><line x1="474" x2="474" y1="429.5" y2="432.5" stroke="#555" stroke-width="0.9"/><line x1="581.75" x2="581.75" y1="429.5" y2="432.5" stroke="#555" stroke-width="0.9"/><line x1="689.5" x2="689.5" y1="429.5" y2="432.5" stroke="#555" stroke-width="0.9"/><g clip-path="url(#cl)"><text x="258.25" y="444.3" text-anchor="middle" class="ax" style="font-size:7.4px">2021-05-10 03:00:00</text><text x="366.5" y="444.3" text-anchor="middle" class="ax" style="font-size:7.4px">2021-05-11 08:00:00</text><text x="474" y="444.3" text-anchor="middle" class="ax" style="font-size:7.4px">2021-05-13 16:00:00</text><text x="581.75" y="444.3" text-anchor="middle" class="ax" style="font-size:7.4px">2021-05-14 21:00:00</text><text x="689.5" y="444.3" text-anchor="middle" class="ax" style="font-size:7.4px">2021-05-18 02:00:00</text></g>
<text x="237" y="236.6" style="font-family:'Liberation Serif',serif;font-size:7.8px;fill:#000;stroke:#000;stroke-width:0.2px">Hourly</text>
<text x="729" y="281.2" class="lb">T1</text><line x1="736.5" x2="740.5" y1="278.5" y2="278.5" stroke="#555" stroke-width="0.9"/>
<text x="729" y="305.2" class="lb">EL</text><line x1="736.5" x2="740.5" y1="302.5" y2="302.5" stroke="#555" stroke-width="0.9"/>
<text x="729" y="347.2" class="lb">SL</text><line x1="736.5" x2="740.5" y1="344.5" y2="344.5" stroke="#555" stroke-width="0.9"/>
<line x1="722.6" y1="302.3" x2="738.2" y2="257" stroke="#76b83f" stroke-width="1.2" stroke-dasharray="4.6,2.4"/>
<path d="M740.9,246 L735,257.7 L740.7,259.2 Z" fill="#76b83f"/>
<path d="M731.4,278.3 L724.6,289.5 L730.1,291.2 Z" fill="#76b83f"/>
</svg>
</body></html>
